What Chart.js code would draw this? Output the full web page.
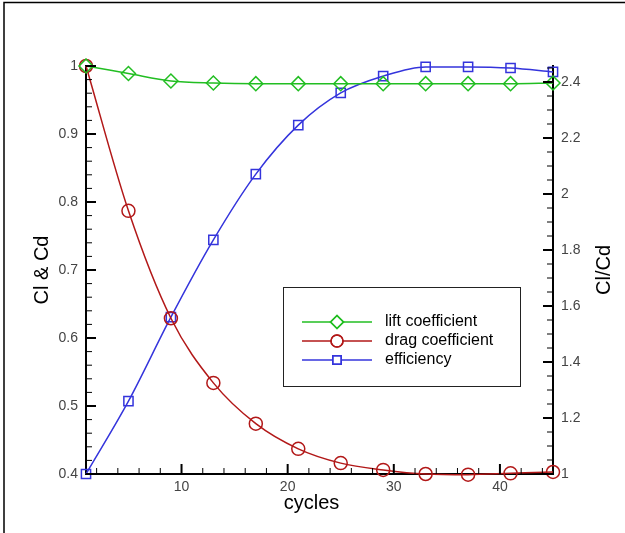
<!DOCTYPE html>
<html>
<head>
<meta charset="utf-8">
<script src="https://cdn.jsdelivr.net/npm/chart.js@4/dist/chart.umd.min.js"></script>
<style>
html,body{margin:0;padding:0;background:#fff;}
#wrap{width:625px;height:533px;position:relative;}
</style>
</head>
<body>
<div id="wrap"><canvas id="c" width="625" height="533"></canvas></div>
<script>
const cycles = [1, 5, 9, 13, 17, 21, 25, 29, 33, 37, 41, 45];
const liftCoefficient = [1.0, 0.989, 0.978, 0.975, 0.974, 0.974, 0.974, 0.974, 0.974, 0.974, 0.974, 0.975];
const dragCoefficient = [1.0, 0.787, 0.629, 0.534, 0.474, 0.437, 0.416, 0.406, 0.400, 0.399, 0.401, 0.403];
const efficiency = [1.0, 1.26, 1.56, 1.836, 2.071, 2.246, 2.361, 2.421, 2.454, 2.454, 2.45, 2.436];
const xTicks = [10, 20, 30, 40];
const leftTicks = [0.4, 0.5, 0.6, 0.7, 0.8, 0.9, 1];
const rightTicks = [1, 1.2, 1.4, 1.6, 1.8, 2, 2.2, 2.4];
const seriesNames = ['lift coefficient', 'drag coefficient', 'efficiency'];

const GREEN = 'rgb(34,190,34)';
const RED = 'rgb(178,24,24)';
const BLUE = 'rgb(52,52,220)';
const TICK_FONT = {family: 'Liberation Sans, Arial, sans-serif', size: 14};

function pts(ys){ return cycles.map((x,i)=>({x:x, y:ys[i]})); }
function fmt(v){ return String(Number(v.toFixed(2))); }

const decor = {
  id: 'decor',
  afterDraw(chart){
    const ctx = chart.ctx;
    const ca = chart.chartArea;
    const xs = chart.scales.x, yl = chart.scales.yL, yr = chart.scales.yR;
    ctx.save();
    // outer frame (top & left)
    ctx.strokeStyle = '#000'; ctx.lineWidth = 1.5;
    ctx.beginPath(); ctx.moveTo(4, 533); ctx.lineTo(4, 2.5); ctx.lineTo(625, 2.5); ctx.stroke();
    // inward ticks
    function tick(x1,y1,x2,y2,w){ ctx.lineWidth=w; ctx.beginPath(); ctx.moveTo(x1,y1); ctx.lineTo(x2,y2); ctx.stroke(); }
    for (let v = 2; v <= 44; v += 2) {
      const px = xs.getPixelForValue(v);
      const major = v % 10 === 0;
      tick(px, ca.bottom, px, ca.bottom - (major ? 10 : 6), major ? 2 : 1);
    }
    for (let k = 20; k <= 50; k += 1) {
      const v = k / 50;
      const py = yl.getPixelForValue(v);
      const major = k % 5 === 0;
      tick(ca.left, py, ca.left + (major ? 10 : 6), py, major ? 2 : 1);
    }
    for (let k = 20; k <= 49; k += 1) {
      const v = k / 20;
      const py = yr.getPixelForValue(v);
      const major = k % 4 === 0;
      tick(ca.right, py, ca.right - (major ? 10 : 6), py, major ? 2 : 1);
    }
    // axis titles
    ctx.fillStyle = '#000';
    ctx.font = '20px Liberation Sans, Arial, sans-serif';
    ctx.textAlign = 'center'; ctx.textBaseline = 'middle';
    ctx.fillText('cycles', (ca.left + ca.right) / 2 - 8, 503);
    ctx.save(); ctx.translate(42, (ca.top + ca.bottom) / 2); ctx.rotate(-Math.PI/2); ctx.fillText('Cl & Cd', 0, 0); ctx.restore();
    ctx.save(); ctx.translate(604, (ca.top + ca.bottom) / 2); ctx.rotate(-Math.PI/2); ctx.fillText('Cl/Cd', 0, 0); ctx.restore();
    // legend box
    const bx = 283, by = 287, bw = 237, bh = 99;
    ctx.fillStyle = '#fff'; ctx.fillRect(bx, by, bw, bh);
    ctx.strokeStyle = '#222'; ctx.lineWidth = 1; ctx.strokeRect(bx + 0.5, by + 0.5, bw, bh);
    const rows = [322, 341, 360];
    chart.data.datasets.forEach((ds, i) => {
      const y = rows[i];
      ctx.strokeStyle = ds.borderColor; ctx.lineWidth = 1.5;
      ctx.beginPath(); ctx.moveTo(302, y); ctx.lineTo(372, y); ctx.stroke();
      ctx.fillStyle = '#fff';
      Chart.helpers.drawPoint(ctx, {pointStyle: ds.pointStyle, radius: ds.pointRadius - 0.5, borderWidth: 1.5, rotation: 0}, 337, y);
      ctx.stroke();
      ctx.fillStyle = '#000';
      ctx.font = '16px Liberation Sans, Arial, sans-serif';
      ctx.textAlign = 'left'; ctx.textBaseline = 'middle';
      ctx.fillText(ds.label, 385, y);
    });
    ctx.restore();
  }
};

function lineDs(label, ys, color, style, r, axis){
  return {
    label: label, data: pts(ys), yAxisID: axis,
    borderColor: color, borderWidth: 1.5, backgroundColor: 'rgba(0,0,0,0)',
    pointStyle: style, pointRadius: r, pointHoverRadius: r, pointBorderWidth: 1.5,
    pointBorderColor: color, pointBackgroundColor: 'rgba(0,0,0,0)',
    cubicInterpolationMode: 'monotone', clip: false, fill: false
  };
}

new Chart(document.getElementById('c'), {
  type: 'line',
  data: {
    datasets: [
      lineDs(seriesNames[0], liftCoefficient, GREEN, 'rectRot', 7, 'yL'),
      lineDs(seriesNames[1], dragCoefficient, RED, 'circle', 6.5, 'yL'),
      lineDs(seriesNames[2], efficiency, BLUE, 'rect', 6.5, 'yR')
    ]
  },
  options: {
    responsive: false, animation: false,
    layout: {padding: {top: 66, left: 0, right: 0, bottom: 0}},
    plugins: {legend: {display: false}, tooltip: {enabled: false}},
    scales: {
      x: {
        type: 'linear', min: 1, max: 45,
        afterBuildTicks: s => { s.ticks = xTicks.map(v => ({value: v})); },
        afterFit: s => { s.height = 59; },
        grid: {display: true, drawOnChartArea: false, drawTicks: false},
        border: {display: true, color: '#000', width: 2},
        ticks: {color: '#444', font: TICK_FONT, padding: 5, maxRotation: 0, callback: v => fmt(v)}
      },
      yL: {
        type: 'linear', position: 'left', min: 0.4, max: 1,
        afterBuildTicks: s => { s.ticks = leftTicks.map(v => ({value: v})); },
        afterFit: s => { s.width = 86; },
        grid: {display: true, drawOnChartArea: false, drawTicks: false},
        border: {display: true, color: '#000', width: 2},
        ticks: {color: '#444', font: TICK_FONT, padding: 8, callback: v => fmt(v)}
      },
      yR: {
        type: 'linear', position: 'right', min: 1, max: 1 + 408/280,
        afterBuildTicks: s => { s.ticks = rightTicks.map(v => ({value: v})); },
        afterFit: s => { s.width = 72; },
        grid: {display: true, drawOnChartArea: false, drawTicks: false},
        border: {display: true, color: '#000', width: 2},
        ticks: {color: '#444', font: TICK_FONT, padding: 8, callback: v => fmt(v)}
      }
    }
  },
  plugins: [decor]
});
</script>
</body>
</html>
